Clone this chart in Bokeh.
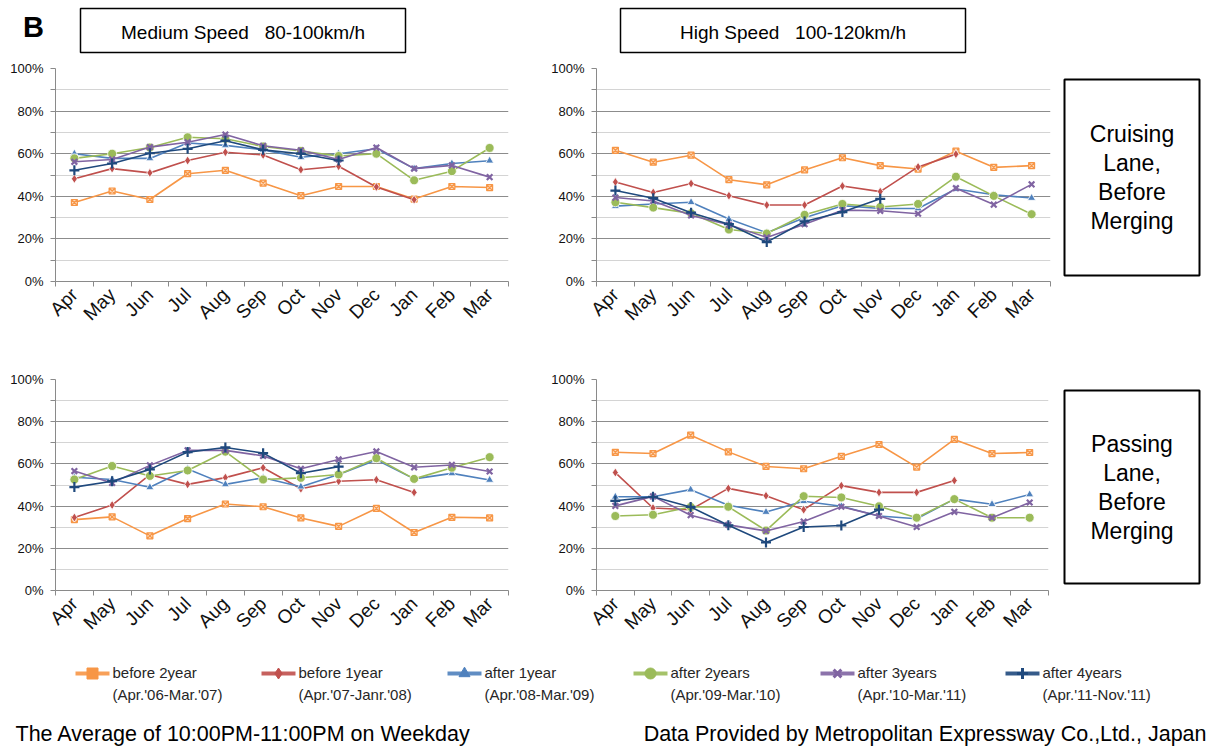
import math
from bokeh.plotting import figure
from bokeh.layouts import column, row
from bokeh.models import Range1d, FixedTicker, NumeralTickFormatter
from bokeh.core.properties import value
from bokeh.embed import file_html
from bokeh.resources import INLINE

# ---------------- data ----------------
months = ["Apr", "May", "Jun", "Jul", "Aug", "Sep", "Oct", "Nov", "Dec", "Jan", "Feb", "Mar"]

series_line1 = ["before 2year", "before 1year", "after 1year", "after 2years", "after 3years", "after 4years"]
series_line2 = ["(Apr.'06-Mar.'07)", "(Apr.'07-Janr.'08)", "(Apr.'08-Mar.'09)",
                "(Apr.'09-Mar.'10)", "(Apr.'10-Mar.'11)", "(Apr.'11-Nov.'11)"]

col_titles = ["Medium Speed\u00a0\u00a0 80-100km/h", "High Speed\u00a0\u00a0 100-120km/h"]
row_titles = [["Cruising", "Lane,", "Before", "Merging"], ["Passing", "Lane,", "Before", "Merging"]]
footer_left = "The Average of 10:00PM-11:00PM on Weekday"
footer_right = "Data Provided by Metropolitan Expressway Co.,Ltd., Japan"

# Medium speed, cruising lane (%)
med_cru_before2 = [37.1, 42.5, 38.5, 50.6, 52.2, 46.2, 40.3, 44.6, 44.6, 38.7, 44.6, 44.1]
med_cru_before1 = [48.2, 53.0, 51.0, 56.8, 60.7, 59.4, 52.5, 54.1, 44.4, 38.4]
med_cru_after1 = [60.0, 57.8, 57.8, 65.0, 63.9, 61.8, 58.3, 60.0, 62.3, 53.0, 55.4, 56.7]
med_cru_after2 = [57.8, 60.0, 62.9, 67.7, 67.0, 63.4, 61.3, 58.9, 60.0, 47.5, 51.8, 62.7]
med_cru_after3 = [56.2, 57.3, 63.1, 65.4, 69.0, 63.7, 61.6, 57.3, 62.9, 53.0, 54.5, 49.0]
med_cru_after4 = [52.2, 55.4, 60.2, 62.3, 66.1, 61.8, 60.0, 56.8]

# High speed, cruising lane (%)
high_cru_before2 = [61.6, 56.0, 59.3, 47.8, 45.4, 52.4, 58.1, 54.4, 52.8, 61.2, 53.6, 54.4]
high_cru_before1 = [46.7, 41.8, 46.0, 40.3, 35.9, 35.9, 44.8, 42.2, 53.8, 59.8]
high_cru_after1 = [35.4, 36.4, 37.2, 29.3, 22.9, 29.9, 35.6, 34.3, 34.3, 43.4, 40.7, 39.2]
high_cru_after2 = [37.2, 34.7, 32.0, 24.4, 22.5, 31.3, 36.4, 35.0, 36.4, 49.2, 40.2, 31.6]
high_cru_after3 = [39.4, 37.8, 31.0, 26.6, 20.7, 26.9, 33.5, 33.2, 31.8, 43.8, 36.1, 45.6]
high_cru_after4 = [42.7, 39.1, 32.3, 26.9, 18.5, 28.2, 32.6, 38.8]

# Medium speed, passing lane (%)
med_pas_before2 = [33.6, 34.9, 25.9, 34.1, 41.0, 39.7, 34.4, 30.4, 38.9, 27.5, 34.7, 34.4]
med_pas_before1 = [34.6, 40.5, 54.9, 50.3, 53.5, 58.2, 48.2, 51.8, 52.5, 46.5]
med_pas_after1 = [53.7, 52.6, 48.9, 57.6, 50.3, 53.4, 49.2, 55.0, 61.9, 52.9, 55.5, 52.4]
med_pas_after2 = [52.6, 59.0, 54.3, 56.9, 65.8, 52.6, 53.4, 55.0, 62.7, 52.9, 58.2, 63.2]
med_pas_after3 = [56.6, 51.0, 59.3, 66.4, 66.4, 63.8, 57.7, 62.1, 65.9, 58.4, 59.5, 56.4]
med_pas_after4 = [49.0, 51.8, 57.4, 65.6, 67.8, 65.1, 55.6, 58.7]

# High speed, passing lane (%)
high_pas_before2 = [65.5, 64.9, 73.6, 65.7, 58.8, 57.7, 63.6, 69.2, 58.5, 71.6, 64.9, 65.4]
high_pas_before1 = [55.9, 39.1, 38.3, 48.4, 44.9, 38.3, 49.7, 46.5, 46.5, 52.1]
high_pas_after1 = [44.4, 44.4, 47.8, 40.4, 37.2, 42.3, 39.9, 35.3, 34.0, 43.3, 40.9, 45.5]
high_pas_after2 = [35.3, 35.9, 39.6, 39.7, 28.4, 44.7, 44.1, 39.9, 34.5, 43.3, 34.5, 34.5]
high_pas_after3 = [40.1, 44.6, 35.7, 31.1, 28.2, 32.7, 39.7, 35.3, 30.1, 37.3, 34.5, 41.7]
high_pas_after4 = [42.5, 44.4, 39.6, 30.9, 22.8, 30.1, 30.8, 38.3]

# ---------------- styles ----------------
COLORS = ["#F79646", "#C0504D", "#4F81BD", "#9BBB59", "#8064A2", "#1F497D"]
MARKERS = ["square_x", "diamond", "triangle", "circle", "x", "cross"]
MSIZES = [6, 9, 8, 9, 8, 10]
LEG_MARKERS = ["square", "diamond", "triangle", "circle", "x", "cross"]
FONT = "Liberation Sans"
PAGE_W = 1210


def make_panel(width, height, left, right, top, bottom, series):
    p = figure(width=width, height=height, x_range=Range1d(0, len(months)), y_range=Range1d(0, 1),
               output_backend="svg", toolbar_location=None,
               min_border_left=left, min_border_right=right, min_border_top=top, min_border_bottom=bottom)
    p.outline_line_color = None
    centers = [i + 0.5 for i in range(len(months))]
    p.xaxis.ticker = FixedTicker(ticks=centers, minor_ticks=list(range(len(months) + 1)))
    p.xaxis.major_label_overrides = {c: m for c, m in zip(centers, months)}
    p.xaxis.major_tick_out = 0
    p.xaxis.major_tick_in = 0
    p.xaxis.minor_tick_out = 5
    p.xaxis.minor_tick_in = 0
    p.xaxis.minor_tick_line_color = "#8a8a8a"
    p.xaxis.axis_line_color = "#8a8a8a"
    p.xaxis.major_label_orientation = math.pi / 4
    p.xaxis.major_label_text_font = FONT
    p.xaxis.major_label_text_font_size = "19px"
    p.xaxis.major_label_text_color = "#111111"
    p.xaxis.major_label_standoff = 5
    p.xgrid.visible = False

    yt = FixedTicker(ticks=[0, 0.2, 0.4, 0.6, 0.8, 1.0], minor_ticks=[0.1, 0.3, 0.5, 0.7, 0.9])
    p.yaxis.ticker = yt
    p.yaxis.formatter = NumeralTickFormatter(format="0%")
    p.yaxis.major_tick_out = 5
    p.yaxis.major_tick_in = 0
    p.yaxis.minor_tick_out = 5
    p.yaxis.minor_tick_in = 0
    p.yaxis.major_tick_line_color = "#8a8a8a"
    p.yaxis.minor_tick_line_color = "#8a8a8a"
    p.yaxis.axis_line_color = "#8a8a8a"
    p.yaxis.major_label_text_font = FONT
    p.yaxis.major_label_text_font_size = "13px"
    p.yaxis.major_label_text_color = "#111111"
    p.yaxis.major_label_standoff = 7
    p.ygrid.grid_line_color = "#8c8c8c"
    p.ygrid.grid_line_width = 1.2
    p.ygrid.minor_grid_line_color = "#d4d4d4"
    p.ygrid.minor_grid_line_width = 1.2

    for k, vals in enumerate(series):
        xs = [i + 0.5 for i in range(len(vals))]
        ys = [v / 100.0 for v in vals]
        p.line(xs, ys, line_color=COLORS[k], line_width=1.6)
        if MARKERS[k] in ("x", "cross"):
            p.scatter(xs, ys, marker=MARKERS[k], size=MSIZES[k], line_color=COLORS[k], line_width=2.2)
        elif MARKERS[k] == "square_x":
            p.scatter(xs, ys, marker="square_x", size=MSIZES[k], line_color=COLORS[k],
                      fill_color="#FCD9BC", line_width=1.2)
        else:
            p.scatter(xs, ys, marker=MARKERS[k], size=MSIZES[k], line_color="white",
                      fill_color=COLORS[k], line_width=0.8)
    return p


def make_side(x0, width, height, top, bottom, frame_top, frame_bottom, lines, box_top, box_bottom):
    # side figure: same vertical borders as its neighbours, ranges in page pixels
    p = figure(width=width, height=height, x_range=Range1d(x0, x0 + width),
               y_range=Range1d(frame_bottom, frame_top),
               output_backend="svg", toolbar_location=None, x_axis_type=None, y_axis_type=None,
               min_border_left=0, min_border_right=0, min_border_top=top, min_border_bottom=bottom)
    p.outline_line_color = None
    p.grid.visible = False
    bl, brr = x0 + 8, x0 + width - 11
    p.quad(left=[bl], right=[brr], top=[box_top], bottom=[box_bottom],
           fill_color="white", line_color="black", line_width=2)
    cy = (box_top + box_bottom) / 2.0
    n = len(lines)
    ys = [cy + (i - (n - 1) / 2.0) * 29 for i in range(n)]
    p.text(x=[(bl + brr) / 2.0] * n, y=ys, text=lines, text_font=value(FONT),
           text_font_size="23px", text_align="center", text_baseline="middle", text_color="black")
    return p


# ---------------- header (page pixel coordinates) ----------------
HEAD_H = 60
header = figure(width=PAGE_W, height=HEAD_H, x_range=Range1d(0, PAGE_W), y_range=Range1d(HEAD_H, 0),
                output_backend="svg", toolbar_location=None, x_axis_type=None, y_axis_type=None,
                min_border=0)
header.outline_line_color = None
header.grid.visible = False
header.text(x=[33], y=[26], text=["B"], text_font=value(FONT), text_font_style="bold",
            text_font_size="29px", text_align="center", text_baseline="middle", text_color="black")
box_l = [80, 620]
box_r = [405, 965]
header.quad(left=box_l, right=box_r, top=[8, 8], bottom=[52, 52], fill_color="white",
            line_color="black", line_width=1.5)
header.text(x=[(a + b) / 2 for a, b in zip(box_l, box_r)], y=[32, 32], text=col_titles,
            text_font=value(FONT), text_font_size="19px", text_align="center",
            text_baseline="middle", text_color="black")

# ---------------- panels ----------------
# row 1: page y 60..370, frame 68..281
tl = make_panel(548, 310, 55, 40, 8, 89,
                [med_cru_before2, med_cru_before1, med_cru_after1, med_cru_after2, med_cru_after3, med_cru_after4])
tr = make_panel(508, 310, 46, 6, 8, 89,
                [high_cru_before2, high_cru_before1, high_cru_after1, high_cru_after2, high_cru_after3, high_cru_after4])
s1 = make_side(1056, 154, 310, 8, 89, 68, 281, row_titles[0], 79, 275)

# row 2: page y 370..650, frame 379..590
bl = make_panel(548, 280, 55, 40, 9, 60,
                [med_pas_before2, med_pas_before1, med_pas_after1, med_pas_after2, med_pas_after3, med_pas_after4])
br = make_panel(508, 280, 46, 8, 9, 60,
                [high_pas_before2, high_pas_before1, high_pas_after1, high_pas_after2, high_pas_after3, high_pas_after4])
s2 = make_side(1056, 154, 280, 9, 60, 379, 590, row_titles[1], 390, 583)

# ---------------- legend + footer (page y 650..749) ----------------
FOOT_Y0 = 650
FOOT_H = 99
foot = figure(width=PAGE_W, height=FOOT_H, x_range=Range1d(0, PAGE_W),
              y_range=Range1d(FOOT_Y0 + FOOT_H, FOOT_Y0),
              output_backend="svg", toolbar_location=None, x_axis_type=None, y_axis_type=None,
              min_border=0)
foot.outline_line_color = None
foot.grid.visible = False
leg_x0 = [75, 261, 447, 633, 820, 1005]
leg_len = 34
for k in range(len(series_line1)):
    x0 = leg_x0[k]
    foot.line([x0, x0 + leg_len], [673, 673], line_color=COLORS[k], line_width=4, line_alpha=0.9)
    if LEG_MARKERS[k] in ("x", "cross"):
        foot.scatter([x0 + leg_len / 2], [673], marker=LEG_MARKERS[k], size=11,
                     line_color=COLORS[k], line_width=3)
    else:
        foot.scatter([x0 + leg_len / 2], [673], marker=LEG_MARKERS[k], size=11,
                     line_color=COLORS[k], fill_color=COLORS[k])
    foot.text(x=[x0 + leg_len + 3, x0 + leg_len + 3], y=[672, 694],
              text=[series_line1[k], series_line2[k]], text_font=value(FONT),
              text_font_size="15px", text_align="left", text_baseline="middle", text_color="#262626")
foot.text(x=[15], y=[733], text=[footer_left], text_font=value(FONT), text_font_size="21.5px",
          text_align="left", text_baseline="middle", text_color="black")
foot.text(x=[1206], y=[733], text=[footer_right], text_font=value(FONT), text_font_size="21.5px",
          text_align="right", text_baseline="middle", text_color="black")

layout = column(header, row(tl, tr, s1), row(bl, br, s2), foot)

open("out.html", "w").write(file_html(layout, INLINE))
